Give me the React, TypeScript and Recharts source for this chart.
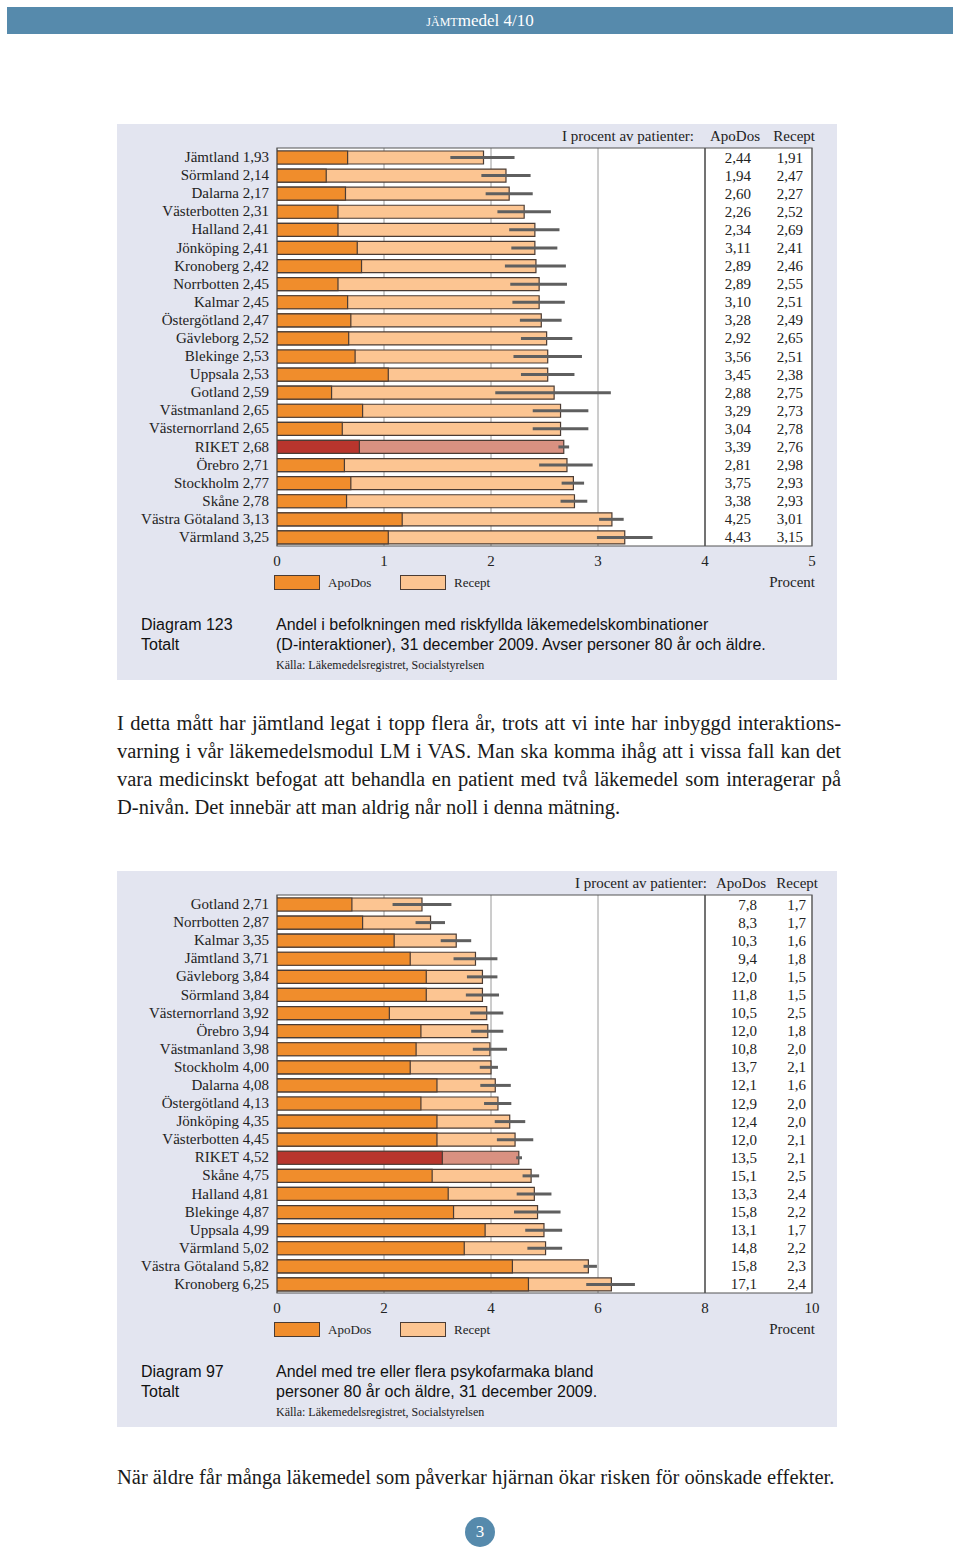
import React from 'react';
import { BarChart, Bar, Cell, XAxis, YAxis, CartesianGrid, ErrorBar, LabelList, ReferenceLine, ReferenceArea } from 'recharts';

// Diagram 123 – D-interaktioner
const regions1 = ['Jämtland', 'Sörmland', 'Dalarna', 'Västerbotten', 'Halland', 'Jönköping', 'Kronoberg', 'Norrbotten', 'Kalmar', 'Östergötland', 'Gävleborg', 'Blekinge', 'Uppsala', 'Gotland', 'Västmanland', 'Västernorrland', 'RIKET', 'Örebro', 'Stockholm', 'Skåne', 'Västra Götaland', 'Värmland'];
const total1 = [1.93, 2.14, 2.17, 2.31, 2.41, 2.41, 2.42, 2.45, 2.45, 2.47, 2.52, 2.53, 2.53, 2.59, 2.65, 2.65, 2.68, 2.71, 2.77, 2.78, 3.13, 3.25];
const apoPart1 = [0.66, 0.46, 0.64, 0.57, 0.57, 0.75, 0.79, 0.57, 0.66, 0.69, 0.67, 0.73, 1.04, 0.51, 0.8, 0.61, 0.77, 0.63, 0.69, 0.65, 1.17, 1.04];
const ciLow1 = [1.62, 1.91, 1.95, 2.06, 2.17, 2.19, 2.13, 2.18, 2.2, 2.27, 2.28, 2.21, 2.28, 2.04, 2.39, 2.39, 2.63, 2.45, 2.66, 2.65, 3.01, 2.99];
const ciHigh1 = [2.22, 2.37, 2.39, 2.56, 2.64, 2.62, 2.7, 2.71, 2.69, 2.66, 2.76, 2.85, 2.78, 3.12, 2.91, 2.91, 2.73, 2.95, 2.87, 2.9, 3.24, 3.51];
const apoDos1 = ['2,44', '1,94', '2,60', '2,26', '2,34', '3,11', '2,89', '2,89', '3,10', '3,28', '2,92', '3,56', '3,45', '2,88', '3,29', '3,04', '3,39', '2,81', '3,75', '3,38', '4,25', '4,43'];
const recept1 = ['1,91', '2,47', '2,27', '2,52', '2,69', '2,41', '2,46', '2,55', '2,51', '2,49', '2,65', '2,51', '2,38', '2,75', '2,73', '2,78', '2,76', '2,98', '2,93', '2,93', '3,01', '3,15'];
const ticks1 = [0, 1, 2, 3, 4, 5];

// Diagram 97 – tre eller flera psykofarmaka
const regions2 = ['Gotland', 'Norrbotten', 'Kalmar', 'Jämtland', 'Gävleborg', 'Sörmland', 'Västernorrland', 'Örebro', 'Västmanland', 'Stockholm', 'Dalarna', 'Östergötland', 'Jönköping', 'Västerbotten', 'RIKET', 'Skåne', 'Halland', 'Blekinge', 'Uppsala', 'Värmland', 'Västra Götaland', 'Kronoberg'];
const total2 = [2.71, 2.87, 3.35, 3.71, 3.84, 3.84, 3.92, 3.94, 3.98, 4.0, 4.08, 4.13, 4.35, 4.45, 4.52, 4.75, 4.81, 4.87, 4.99, 5.02, 5.82, 6.25];
const apoPart2 = [1.4, 1.6, 2.19, 2.49, 2.79, 2.79, 2.1, 2.69, 2.6, 2.49, 2.99, 2.69, 2.99, 2.99, 3.09, 2.9, 3.2, 3.3, 3.89, 3.5, 4.4, 4.7];
const ciLow2 = [2.16, 2.59, 3.06, 3.3, 3.55, 3.53, 3.61, 3.63, 3.66, 3.79, 3.8, 3.87, 4.07, 4.11, 4.47, 4.59, 4.48, 4.43, 4.64, 4.68, 5.73, 5.78];
const ciHigh2 = [3.26, 3.14, 3.63, 4.12, 4.12, 4.15, 4.23, 4.23, 4.3, 4.13, 4.37, 4.38, 4.64, 4.79, 4.58, 4.9, 5.13, 5.3, 5.33, 5.33, 5.98, 6.69];
const apoDos2 = ['7,8', '8,3', '10,3', '9,4', '12,0', '11,8', '10,5', '12,0', '10,8', '13,7', '12,1', '12,9', '12,4', '12,0', '13,5', '15,1', '13,3', '15,8', '13,1', '14,8', '15,8', '17,1'];
const recept2 = ['1,7', '1,7', '1,6', '1,8', '1,5', '1,5', '2,5', '1,8', '2,0', '2,1', '1,6', '2,0', '2,0', '2,1', '2,1', '2,5', '2,4', '2,2', '1,7', '2,2', '2,3', '2,4'];
const ticks2 = [0, 2, 4, 6, 8, 10];

const ORANGE = '#f08d2c';
const LIGHT = '#fcc592';
const RED = '#b8352d';
const PINK = '#d99181';
const EDGE = '#4b3c34';
const SERIF = '"Liberation Serif", "DejaVu Serif", serif';
const SANS = '"Liberation Sans", Arial, sans-serif';
const BLUE = '#568aac';

type Row = { name: string; total: number; apo: number; err: [number, number]; apoPct: string; recPct: string };

const makeRows = (names: string[], tot: number[], apo: number[], lo: number[], hi: number[], ap: string[], rc: string[]): Row[] =>
  names.map((name, i) => ({
    name,
    total: tot[i],
    apo: apo[i],
    err: [+(tot[i] - lo[i]).toFixed(2), +(hi[i] - tot[i]).toFixed(2)],
    apoPct: ap[i],
    recPct: rc[i],
  }));

const rows1 = makeRows(regions1, total1, apoPart1, ciLow1, ciHigh1, apoDos1, recept1);
const rows2 = makeRows(regions2, total2, apoPart2, ciLow2, ciHigh2, apoDos2, recept2);

interface PanelProps {
  top: number;
  rows: Row[];
  ticks: number[];
  splitAt: number;
  headEnd: number;
  apoX: number;
  recX: number;
  title: string;
  lines: string[];
}

const Panel = ({ top, rows, ticks, splitAt, headEnd, apoX, recX, title, lines }: PanelProps) => {
  const max = ticks[ticks.length - 1];
  const byName = (n: string) => rows.find(r => r.name === n);

  const NameTick = (p: any) => {
    const r = byName(p.payload.value);
    return (
      <g>
        <text x={122} y={p.y} dy={5} textAnchor="end" fontFamily={SERIF} fontSize={15} fill="#222">{p.payload.value}</text>
        <text x={152} y={p.y} dy={5} textAnchor="end" fontFamily={SERIF} fontSize={15} fill="#222">
          {r ? r.total.toFixed(2).replace('.', ',') : ''}
        </text>
      </g>
    );
  };

  const RightNums = (p: any) => {
    const r = byName(p.value);
    if (!r) return null;
    const cy = p.y + p.height / 2 + 5;
    return (
      <g>
        <text x={apoX} y={cy} textAnchor="end" fontFamily={SERIF} fontSize={15} fill="#222">{r.apoPct}</text>
        <text x={recX} y={cy} textAnchor="end" fontFamily={SERIF} fontSize={15} fill="#222">{r.recPct}</text>
      </g>
    );
  };

  const txt: React.CSSProperties = { position: 'absolute', fontFamily: SERIF, fontSize: 15, color: '#222', whiteSpace: 'nowrap', lineHeight: '18px' };

  return (
    <div style={{ position: 'absolute', left: 117, top, width: 720, height: 556, background: '#e3e5f0' }}>
      <div style={{ ...txt, top: 3, right: 720 - headEnd }}>I procent av patienter:</div>
      <div style={{ ...txt, top: 3, right: 720 - apoX - 9 }}>ApoDos</div>
      <div style={{ ...txt, top: 3, right: 720 - recX - 12 }}>Recept</div>
      <div style={{ position: 'absolute', left: 0, top: 0 }}>
        <BarChart width={720} height={460} layout="vertical" data={rows} margin={{ top: 24, right: 25, left: 0, bottom: 8 }}>
          <CartesianGrid horizontal={false} stroke="#9a9a9a" fill="#ffffff" yAxisId="a" />
          <XAxis type="number" domain={[0, max]} ticks={ticks} tickLine={false} axisLine={false} tickSize={0} tickMargin={9} height={30}
            tick={{ fontFamily: SERIF, fontSize: 15, fill: '#222' }} allowDataOverflow />
          <YAxis yAxisId="a" type="category" dataKey="name" width={160} tickLine={false} axisLine={false} tick={<NameTick />} interval={0} />
          <YAxis yAxisId="b" type="category" dataKey="name" hide />
          <ReferenceLine x={splitAt} yAxisId="a" stroke="#555" strokeWidth={1.5} />
          <Bar yAxisId="a" dataKey="total" barSize={13} stroke={EDGE} strokeWidth={1.2} isAnimationActive={false}>
            {rows.map(r => <Cell key={r.name} fill={r.name === 'RIKET' ? PINK : LIGHT} />)}
            <ErrorBar dataKey="err" direction="x" width={0} stroke="#5f5f5f" strokeWidth={3} />
            <LabelList dataKey="name" content={<RightNums />} />
          </Bar>
          <Bar yAxisId="b" dataKey="apo" barSize={13} stroke={EDGE} strokeWidth={1.2} isAnimationActive={false}>
            {rows.map(r => <Cell key={r.name} fill={r.name === 'RIKET' ? RED : ORANGE} />)}
          </Bar>
          <ReferenceArea yAxisId="a" x1={0} x2={max} fill="none" stroke="#555" strokeWidth={1.2} />
        </BarChart>
      </div>
      <div style={{ position: 'absolute', left: 157, top: 451, width: 44, height: 13, background: ORANGE, border: `1.5px solid ${EDGE}` }} />
      <div style={{ ...txt, fontSize: 13, left: 211, top: 450 }}>ApoDos</div>
      <div style={{ position: 'absolute', left: 283, top: 451, width: 44, height: 13, background: LIGHT, border: `1.5px solid ${EDGE}` }} />
      <div style={{ ...txt, fontSize: 13, left: 337, top: 450 }}>Recept</div>
      <div style={{ ...txt, right: 22, top: 449 }}>Procent</div>
      <div style={{ position: 'absolute', left: 24, top: 491, fontFamily: SANS, fontSize: 16, lineHeight: '20px', color: '#111' }}>
        {title}<br />Totalt
      </div>
      <div style={{ position: 'absolute', left: 159, top: 491, fontFamily: SANS, fontSize: 16, lineHeight: '20px', color: '#111', whiteSpace: 'nowrap' }}>
        {lines.map(l => <div key={l}>{l}</div>)}
      </div>
      <div style={{ ...txt, fontSize: 12, left: 159, top: 532 }}>Källa: Läkemedelsregistret, Socialstyrelsen</div>
    </div>
  );
};

const para = [
  'I detta mått har jämtland legat i topp flera år, trots att vi inte har inbyggd interaktions-',
  'varning i vår läkemedelsmodul LM i VAS. Man ska komma ihåg att i vissa fall kan det',
  'vara medicinskt befogat att behandla en patient med två läkemedel som interagerar på',
  'D-nivån. Det innebär att man aldrig når noll i denna mätning.',
];

export default function App() {
  const body: React.CSSProperties = { fontFamily: SERIF, fontSize: 20.5, lineHeight: '28px', color: '#1a1a1a', width: 724 };
  return (
    <div style={{ position: 'absolute', left: 0, top: 0, width: 960, height: 1549, background: '#fff', overflow: 'hidden' }}>
      <div style={{ position: 'absolute', left: 7, top: 7, width: 946, height: 27, background: BLUE, color: '#fff', textAlign: 'center', fontFamily: SERIF, fontSize: 17, lineHeight: '27px' }}>
        <span style={{ fontVariant: 'small-caps' }}>jämt</span>medel 4/10
      </div>
      <Panel top={124} rows={rows1} ticks={ticks1} splitAt={4} headEnd={577} apoX={634} recX={686} title="Diagram 123"
        lines={['Andel i befolkningen med riskfyllda läkemedelskombinationer', '(D-interaktioner), 31 december 2009. Avser personer 80 år och äldre.']} />
      <div style={{ position: 'absolute', left: 117, top: 709, ...body }}>
        {para.map((l, i) => (
          <div key={i} style={{ textAlign: 'justify', textAlignLast: i < 3 ? 'justify' : 'left' }}>{l}</div>
        ))}
      </div>
      <Panel top={871} rows={rows2} ticks={ticks2} splitAt={8} headEnd={590} apoX={640} recX={689} title="Diagram 97"
        lines={['Andel med tre eller flera psykofarmaka bland', 'personer 80 år och äldre, 31 december 2009.']} />
      <div style={{ position: 'absolute', left: 117, top: 1463, ...body }}>
        <div style={{ whiteSpace: 'nowrap' }}>När äldre får många läkemedel som påverkar hjärnan ökar risken för oönskade effekter.</div>
      </div>
      <div style={{ position: 'absolute', left: 465, top: 1517, width: 30, height: 30, borderRadius: 15, background: BLUE, color: '#fff', textAlign: 'center', lineHeight: '30px', fontFamily: SERIF, fontSize: 17 }}>3</div>
    </div>
  );
}
